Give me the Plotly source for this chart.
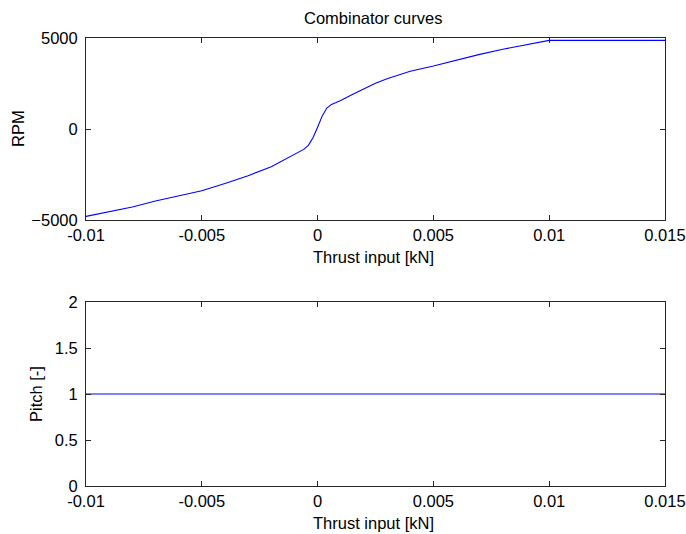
import plotly.graph_objects as go

# Data
thrust = [-0.01, -0.009, -0.008, -0.007, -0.006, -0.005, -0.004, -0.003, -0.002,
          -0.0013, -0.0006, -0.0004, -0.0002, 0.0, 0.0002, 0.0004, 0.0006, 0.0008,
          0.001, 0.0015, 0.002, 0.0025, 0.003, 0.0035, 0.004, 0.005, 0.006, 0.007,
          0.008, 0.009, 0.010, 0.015]
rpm = [-4800, -4560, -4290, -3960, -3680, -3390, -2990, -2570, -2070,
       -1610, -1120, -900, -480, 100, 720, 1150, 1350, 1450,
       1560, 1900, 2220, 2520, 2760, 2980, 3170, 3460, 3800, 4100,
       4380, 4630, 4870, 4870]
pitch_x = [-0.01, 0.015]
pitch = [1, 1]

x_ticks = [-0.01, -0.005, 0, 0.005, 0.01, 0.015]
x_ticklabels = ["-0.01", "-0.005", "0", "0.005", "0.01", "0.015"]
rpm_ticks = [-5000, 0, 5000]
pitch_ticks = [0, 0.5, 1, 1.5, 2]
pitch_ticklabels = ["0", "0.5", "1", "1.5", "2"]

W, H = 686, 534
FONT = "Liberation Sans, Arial, sans-serif"
FS = 16.5
AXC = "#262626"

def px_x(p):
    return p / W

def px_y(p):
    return 1 - p / H

fig = go.Figure()
fig.add_trace(go.Scatter(x=thrust, y=rpm, mode="lines",
                         line=dict(color="#0000ff", width=1.1),
                         xaxis="x", yaxis="y", showlegend=False))
fig.add_trace(go.Scatter(x=pitch_x, y=pitch, mode="lines",
                         line=dict(color="#0000ff", width=1.1),
                         xaxis="x2", yaxis="y2", showlegend=False))

common = dict(showline=True, linecolor=AXC, linewidth=1, mirror="ticks",
              ticks="inside", ticklen=5, tickcolor=AXC, tickwidth=1,
              showgrid=False, zeroline=False, automargin=False,
              tickfont=dict(family=FONT, size=FS, color="#000000"))

xdom = [px_x(86), px_x(665)]
fig.update_layout(
    template="none",
    width=W, height=H,
    margin=dict(l=0, r=0, t=0, b=0, pad=0),
    paper_bgcolor="white", plot_bgcolor="white",
    xaxis=dict(domain=xdom, range=[-0.01, 0.015], tickvals=x_ticks,
               ticktext=x_ticklabels, anchor="y", ticklabelstandoff=0, **common),
    yaxis=dict(domain=[px_y(220), px_y(38)], range=[-5000, 5000],
               tickvals=rpm_ticks, anchor="x", ticklabelstandoff=4, **common),
    xaxis2=dict(domain=xdom, range=[-0.01, 0.015], tickvals=x_ticks,
                ticktext=x_ticklabels, anchor="y2", ticklabelstandoff=0, **common),
    yaxis2=dict(domain=[px_y(486), px_y(302)], range=[0, 2],
                tickvals=pitch_ticks, ticktext=pitch_ticklabels,
                anchor="x2", ticklabelstandoff=4, **common),
)

def label(text, x, y, angle=0):
    fig.add_annotation(text=text, x=px_x(x), y=px_y(y), xref="paper", yref="paper",
                       showarrow=False, textangle=angle,
                       xanchor="center", yanchor="middle",
                       font=dict(family=FONT, size=FS, color="#000000"))

label("Combinator curves", 373, 18)
label("Thrust input [kN]", 373, 257)
label("RPM", 18, 129, -90)
label("Thrust input [kN]", 373, 523)
label("Pitch [-]", 36, 394, -90)

fig.write_html("out.html")
